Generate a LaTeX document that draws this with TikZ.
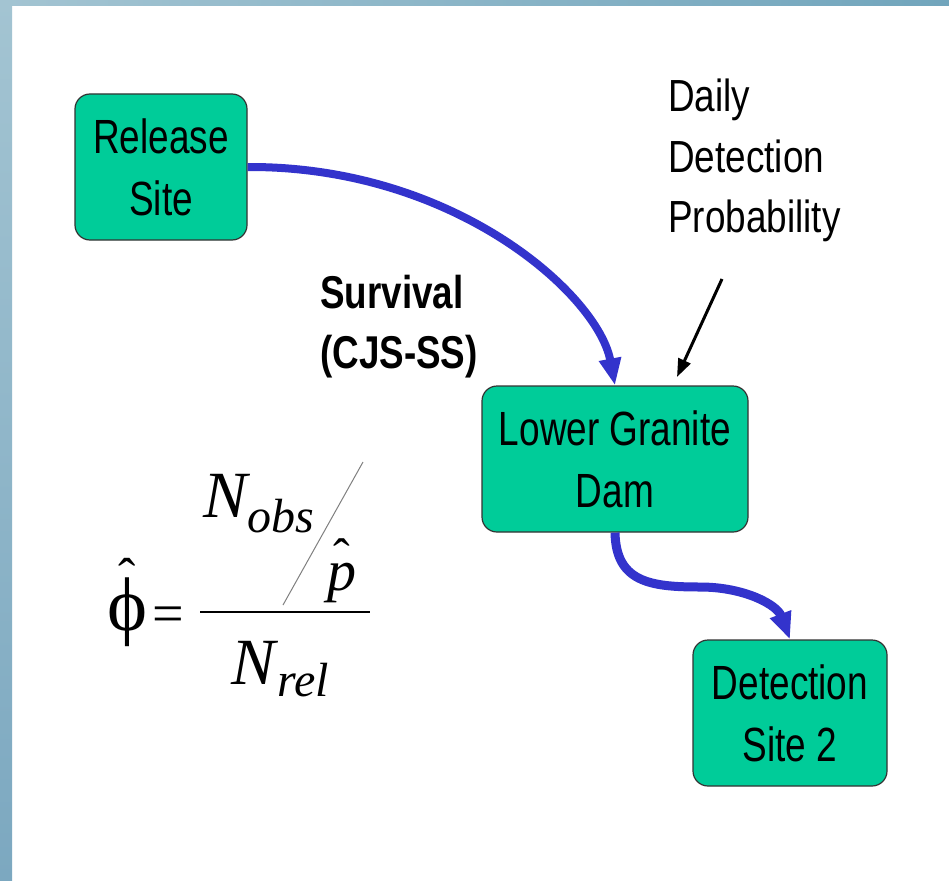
\documentclass[tikz,border=0pt]{standalone}
\usepackage{fontspec}
\usetikzlibrary{arrows.meta}
\newfontfamily\boxfont[FakeStretch=0.77]{Liberation Sans}
\newfontfamily\labfont[FakeStretch=0.82]{Liberation Sans}
\newfontfamily\survfont[FakeStretch=0.8]{Liberation Sans}
\newfontfamily\fserif{Liberation Serif}
\definecolor{boxgreen}{HTML}{00CC99}
\definecolor{arrowblue}{HTML}{3333CC}
\definecolor{edgeA}{HTML}{A3C4D2}
\definecolor{edgeB}{HTML}{7CA8C0}
\definecolor{edgeC}{HTML}{71A5BC}
\tikzset{
  site/.style={draw=black!80, line width=1.2pt, fill=boxgreen, rounded corners=15pt,
    minimum width=172pt, minimum height=146pt, inner sep=0pt, align=center,
    font=\boxfont\fontsize{48}{62}\selectfont},
  lab/.style={inner sep=0pt, font=\labfont\fontsize{45}{50}\selectfont},
  surv/.style={inner sep=0pt, font=\survfont\bfseries\fontsize{46}{50}\selectfont},
  fbig/.style={inner sep=0pt, font=\fserif\itshape\fontsize{66}{70}\selectfont},
  fsmall/.style={inner sep=0pt, font=\fserif\itshape\fontsize{48}{52}\selectfont},
  bluearrow/.style={draw=arrowblue, line width=8pt, -{Triangle[width=21pt,length=27pt]}},
  blackarrow/.style={draw=black, line width=3pt, -{Triangle[width=13pt,length=18pt]}}
}
\begin{document}
\begin{tikzpicture}[x=1pt,y=-1pt]
\useasboundingbox (0,0) rectangle (949,880);
\fill[white] (0,0) rectangle (949,880);
\shade[top color=edgeA, bottom color=edgeB] (0,0) rectangle (12,880);
\shade[left color=edgeA, right color=edgeC] (0,0) rectangle (949,6);

% boxes
\node[site] (RS) at (161,167) {Release\\Site};
\node[site, minimum width=266pt] (LG) at (615,459) {Lower Granite\\Dam};
\node[site, minimum width=194pt] (DS) at (790,713) {Detection\\Site 2};

% labels
\node[lab, anchor=base west] (d1) at (668,112) {Daily};
\node[lab, anchor=base west] (d2) at (668,172) {Detection};
\node[lab, anchor=base west] (d3) at (668,232) {Probability};
\node[surv, anchor=base west] (s1) at (320,308) {Survival};
\node[surv, anchor=base west] (s2) at (320,368) {(CJS-SS)};

% connectors
\draw[bluearrow] (RS.east) .. controls (455,166) and (598,295) .. (LG.north);
\coordinate (m2) at (700,587);
\draw[bluearrow, line width=9pt] (LG.south) .. controls (616,582) and (650,587) .. (m2)
  .. controls (745,587) and (777,605) .. (DS.north);
\coordinate (b1) at (722,279);
\coordinate (b2) at (677,377);
\draw[blackarrow] (b1) -- (b2);

% formula
\node[inner sep=0pt, font=\fserif\fontsize{76}{80}\selectfont, anchor=base] (phi) at (127,630)
  {\ooalign{ϕ\cr\hidewidth\raisebox{36pt}{\fontsize{52}{56}\selectfont ˆ}\hidewidth\cr}};
\node[inner sep=0pt, font=\fserif\fontsize{56}{60}\selectfont, anchor=base] (eq) at (168,632) {=};
\coordinate (fb1) at (200,612);
\coordinate (fb2) at (370,612);
\draw[line width=2pt] (fb1) -- (fb2);
\node[fbig, anchor=base west] (N1) at (203,517) {N};
\node[fsmall, anchor=base west] (obs) at (247,532) {obs};
\coordinate (sl1) at (363,462);
\coordinate (sl2) at (283,605);
\draw[gray, line width=1pt] (sl1) -- (sl2);
\node[inner sep=0pt, font=\fserif\itshape\fontsize{58}{60}\selectfont, anchor=base west] (p) at (327,590)
  {\ooalign{p\cr\hidewidth\raisebox{17pt}{\upshape\fontsize{50}{52}\selectfont ˆ}\hidewidth\cr}};
\node[fbig, anchor=base west] (N2) at (231,684) {N};
\node[fsmall, anchor=base west] (rel) at (277,696) {rel};
\end{tikzpicture}
\end{document}
